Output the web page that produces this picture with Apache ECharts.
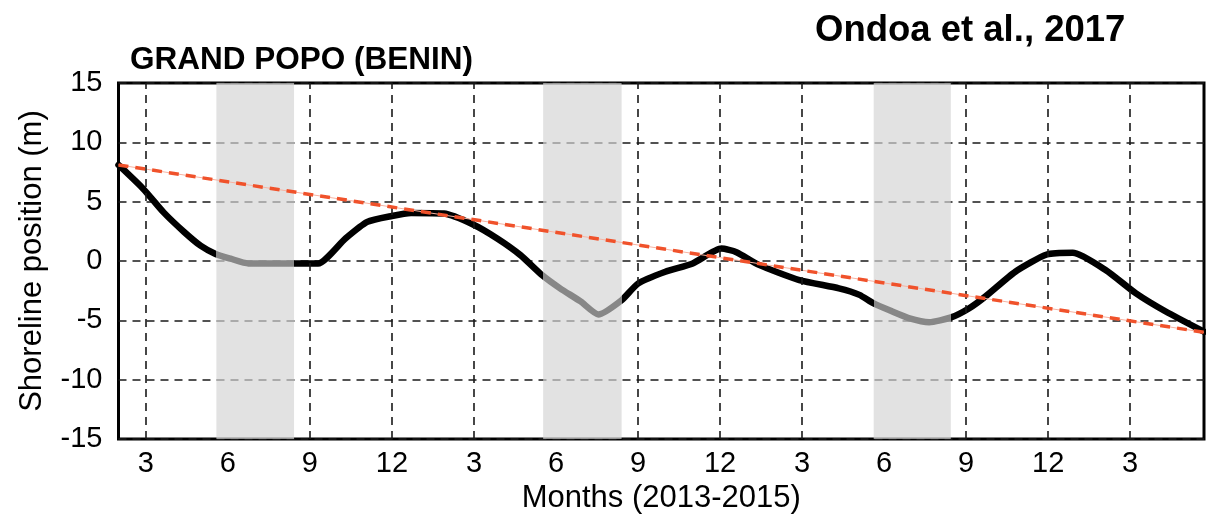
<!DOCTYPE html>
<html>
<head>
<meta charset="utf-8">
<script src="https://cdn.jsdelivr.net/npm/echarts@6/dist/echarts.min.js"></script>
<style>
html,body{margin:0;padding:0;background:#fff;}
#chart{width:1206px;height:519px;}
</style>
</head>
<body>
<div id="chart"></div>
<script>
// Month index: January 2013 = 1
var xTickMonths = [3, 6, 9, 12, 15, 18, 21, 24, 27, 30, 33, 36, 39];
var xTickLabels = ['3', '6', '9', '12', '3', '6', '9', '12', '3', '6', '9', '12', '3'];
var yTicks = [-15, -10, -5, 0, 5, 10, 15];

// Shaded periods (start, end) in month index
var shadeStart = [5.58, 17.53, 29.62];
var shadeEnd = [8.42, 20.40, 32.44];

// Shoreline position (m)
var shoreMonths = [2.0, 2.9, 3.65, 4.4, 5.0, 5.55, 6.1, 6.75, 8.45, 9.3, 10.3, 11.1, 12.0, 12.7, 13.9, 14.95, 15.85, 16.7, 17.5, 18.15, 18.9, 19.55, 20.4, 21.0, 22.0, 23.0, 24.05, 24.6, 25.4, 26.9, 28.35, 29.1, 29.6, 30.3, 30.9, 31.65, 32.45, 33.1, 33.7, 34.8, 35.95, 36.9, 38.1, 39.2, 40.3, 41.7];
var shoreValues = [8.1, 6.1, 4.1, 2.45, 1.3, 0.6, 0.2, -0.2, -0.2, -0.2, 1.9, 3.3, 3.8, 4.05, 4.0, 3.1, 1.9, 0.5, -1.2, -2.3, -3.4, -4.5, -3.3, -1.9, -0.9, -0.2, 1.05, 0.75, -0.3, -1.6, -2.3, -2.85, -3.55, -4.25, -4.8, -5.15, -4.75, -4.0, -3.0, -0.9, 0.55, 0.7, -0.75, -2.7, -4.25, -5.95];

// Linear trend
var trendMonths = [2.0, 41.7];
var trendValues = [8.1, -6.0];

var FONT = '"Liberation Sans", Arial, sans-serif';

var chart = echarts.init(document.getElementById('chart'), null, {renderer: 'canvas'});

function zip(a, b) { return a.map(function (v, i) { return [v, b[i]]; }); }

var vGrid = xTickMonths.filter(function (m) {
  for (var i = 0; i < shadeStart.length; i++) {
    if (m > shadeStart[i] && m < shadeEnd[i]) return false;
  }
  return true;
});

var pieces = [];
var prev = null;
for (var i = 0; i < shadeStart.length; i++) {
  var p = {lt: shadeStart[i], color: '#000'};
  if (prev !== null) p.gte = prev;
  pieces.push(p);
  pieces.push({gte: shadeStart[i], lt: shadeEnd[i], color: '#878787'});
  prev = shadeEnd[i];
}
pieces.push({gte: prev, color: '#000'});

var option = {
  backgroundColor: '#fff',
  animation: false,
  title: [
    {text: 'GRAND POPO (BENIN)', left: 130, top: 44, padding: 0,
     textStyle: {fontFamily: FONT, fontSize: 31.5, fontWeight: 'bold', color: '#000'}},
    {text: 'Ondoa et al., 2017', left: 815, top: 12, padding: 0,
     textStyle: {fontFamily: FONT, fontSize: 36.5, fontWeight: 'bold', color: '#000'}}
  ],
  grid: {left: 118.5, right: 2, top: 83, bottom: 77, show: true,
         borderColor: '#000', borderWidth: 3, backgroundColor: 'transparent'},
  visualMap: {type: 'piecewise', show: false, dimension: 0, seriesIndex: 2, pieces: pieces},
  xAxis: {
    type: 'value', min: 2, max: 41.7,
    name: 'Months (2013-2015)', nameLocation: 'middle', nameGap: 41,
    nameTextStyle: {fontFamily: FONT, fontSize: 31, color: '#000'},
    axisLine: {show: false}, axisTick: {show: false}, splitLine: {show: false},
    axisLabel: {
      customValues: xTickMonths,
      formatter: function (v) { var i = xTickMonths.indexOf(Math.round(v)); return i >= 0 ? xTickLabels[i] : ''; },
      fontFamily: FONT, fontSize: 29, color: '#000', margin: 10
    }
  },
  yAxis: {
    type: 'value', min: yTicks[0], max: yTicks[yTicks.length - 1], interval: 5,
    name: 'Shoreline position (m)', nameLocation: 'middle', nameGap: 71, nameRotate: 90,
    nameTextStyle: {fontFamily: FONT, fontSize: 31, color: '#000'},
    axisLine: {show: false}, axisTick: {show: false},
    axisLabel: {fontFamily: FONT, fontSize: 29, color: '#000', margin: 16},
    splitLine: {show: true, lineStyle: {type: [8, 6], color: '#1a1a1a', width: 1.6}}
  },
  series: [
    {
      name: 'vgrid', type: 'line', data: [], z: 1, silent: true,
      markLine: {
        silent: true, symbol: ['none', 'none'], label: {show: false},
        lineStyle: {type: [8, 6], color: '#1a1a1a', width: 1.6},
        emphasis: {disabled: true},
        data: vGrid.map(function (m) { return {xAxis: m}; })
      }
    },
    {
      name: 'shade', type: 'line', data: [], z: 2, silent: true,
      markArea: {
        silent: true,
        itemStyle: {color: 'rgba(212,212,212,0.68)'},
        data: shadeStart.map(function (s, i) { return [{xAxis: s}, {xAxis: shadeEnd[i]}]; })
      }
    },
    {
      name: 'Shoreline', type: 'line', z: 3, symbol: 'none', smooth: 0.2,
      lineStyle: {width: 6.5, cap: 'round', join: 'round'},
      data: zip(shoreMonths, shoreValues)
    },
    {
      name: 'trend-thin', type: 'line', z: 4, symbol: 'none', silent: true,
      lineStyle: {width: 1, color: '#f7b3a2'},
      data: zip(trendMonths, trendValues)
    },
    {
      name: 'Trend', type: 'line', z: 5, symbol: 'none',
      lineStyle: {width: 3.5, color: '#f0522b', type: [10, 7]},
      data: zip(trendMonths, trendValues)
    }
  ]
};
chart.setOption(option);
</script>
</body>
</html>
